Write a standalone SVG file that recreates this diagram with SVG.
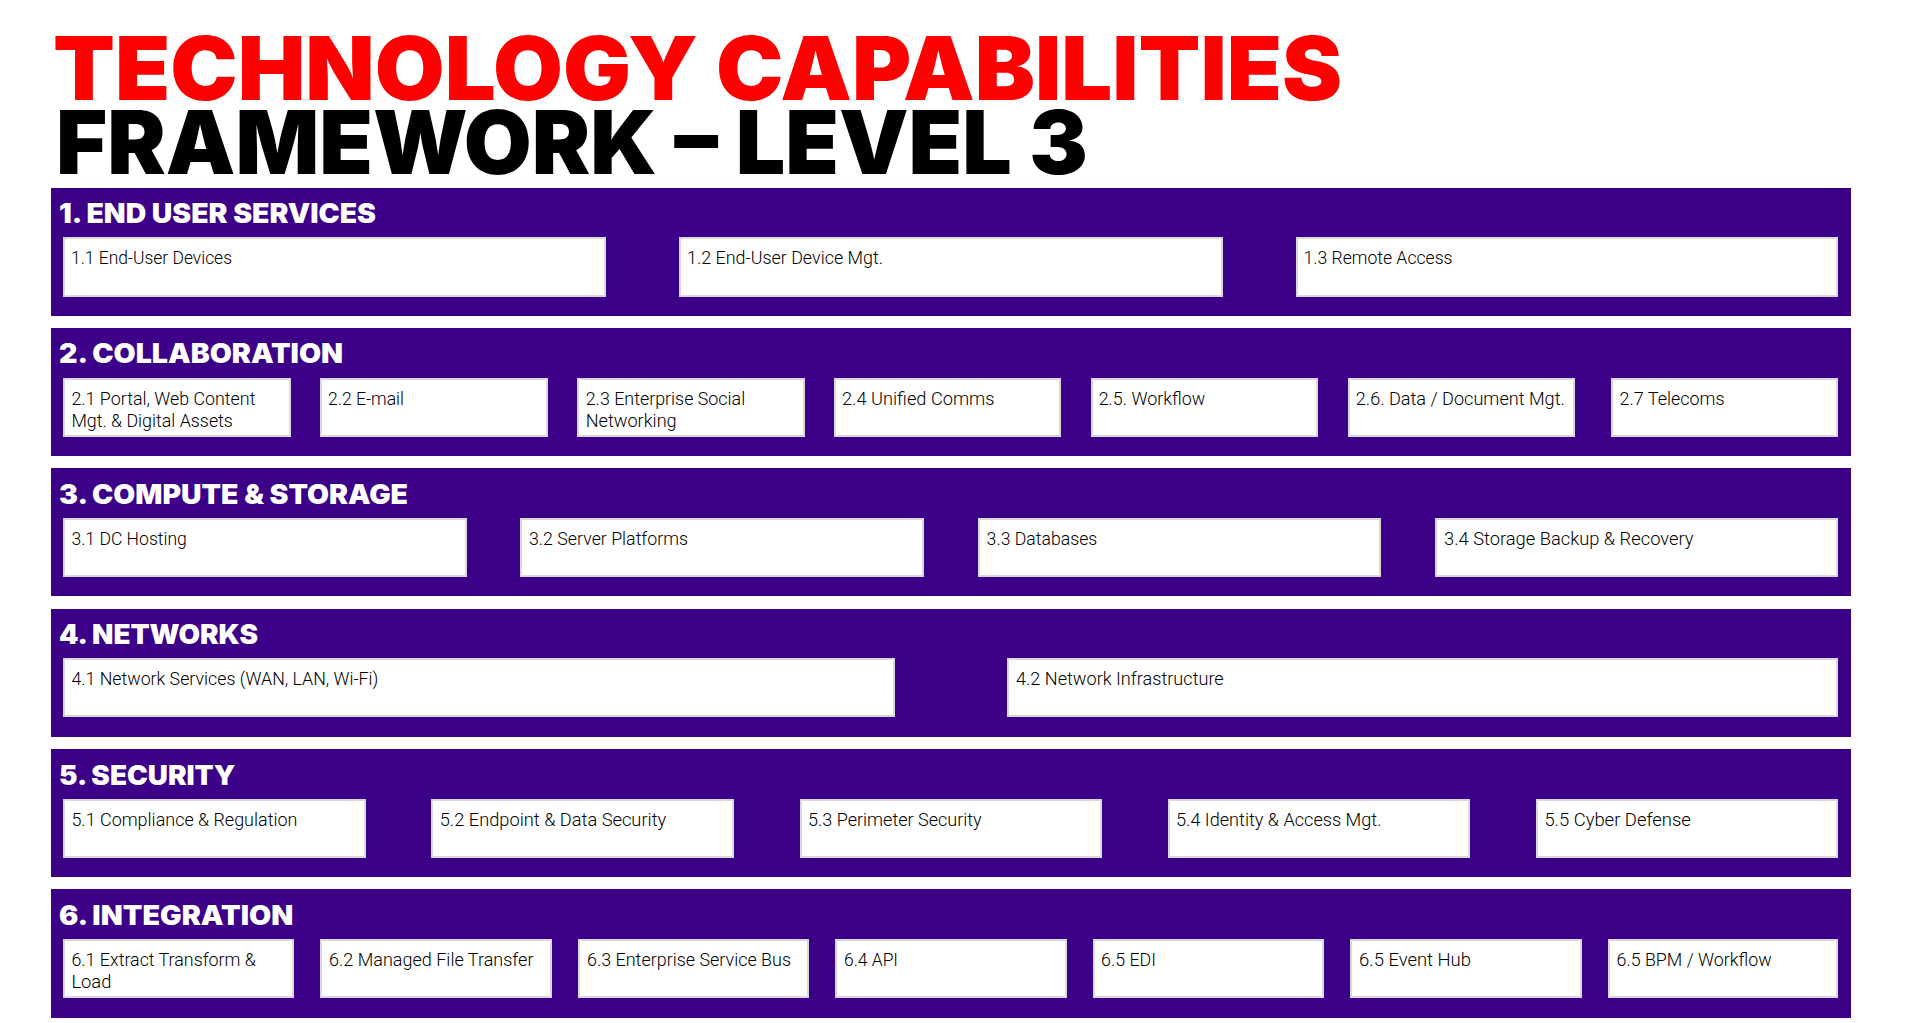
<svg xmlns="http://www.w3.org/2000/svg" width="1906" height="1023" viewBox="0 0 1906 1023">
  <style>
    .title { font-family: Inter, Lato, "Liberation Sans", sans-serif; font-weight: 900; font-size: 88px; }
    .red { fill: #ff0000; }
    .black { fill: #000000; }
    .band { fill: #3b0087; }
    .head { font-family: Inter, Lato, "Liberation Sans", sans-serif; font-weight: 900; font-size: 27px; fill: #ffffff; }
    .box { fill: #ffffff; stroke: #d9d9d9; stroke-width: 2; }
    .lbl { font-family: Roboto, "Liberation Sans", sans-serif; font-weight: 300; font-size: 18.5px; fill: #000000; }
  </style>
  <rect width="1906" height="1023" fill="#ffffff"/>

  <!-- Title -->
  <g id="title">
    <text class="title red" x="53" y="100" textLength="1289" lengthAdjust="spacingAndGlyphs">TECHNOLOGY CAPABILITIES</text>
    <text class="title black" x="56" y="174" textLength="1032" lengthAdjust="spacingAndGlyphs">FRAMEWORK – LEVEL 3</text>
  </g>

  <!-- 1. End User Services -->
  <g id="layer-1">
    <rect class="band" x="51" y="188" width="1800" height="128"/>
    <text class="head" x="59" y="223" textLength="317" lengthAdjust="spacingAndGlyphs">1. END USER SERVICES</text>
    <g id="n1-1"><rect class="box" x="64" y="238" width="541" height="58"/><text class="lbl" x="71" y="264" textLength="161" lengthAdjust="spacingAndGlyphs">1.1 End-User Devices</text></g>
    <g id="n1-2"><rect class="box" x="680" y="238" width="542" height="58"/><text class="lbl" x="687" y="264" textLength="196" lengthAdjust="spacingAndGlyphs">1.2 End-User Device Mgt.</text></g>
    <g id="n1-3"><rect class="box" x="1297" y="238" width="540" height="58"/><text class="lbl" x="1303.5" y="264" textLength="149" lengthAdjust="spacingAndGlyphs">1.3 Remote Access</text></g>
  </g>

  <!-- 2. Collaboration -->
  <g id="layer-2">
    <rect class="band" x="51" y="328" width="1800" height="128"/>
    <text class="head" x="59" y="363" textLength="284" lengthAdjust="spacingAndGlyphs">2. COLLABORATION</text>
    <g id="n2-1"><rect class="box" x="64" y="379" width="226" height="57"/>
      <text class="lbl" x="71.4" y="404.5" textLength="184" lengthAdjust="spacingAndGlyphs">2.1 Portal, Web Content</text>
      <text class="lbl" x="71.4" y="426.5" textLength="161.5" lengthAdjust="spacingAndGlyphs">Mgt. &amp; Digital Assets</text></g>
    <g id="n2-2"><rect class="box" x="321" y="379" width="226" height="57"/><text class="lbl" x="328" y="404.5" textLength="76" lengthAdjust="spacingAndGlyphs">2.2 E-mail</text></g>
    <g id="n2-3"><rect class="box" x="578" y="379" width="226" height="57"/>
      <text class="lbl" x="585.7" y="404.5" textLength="159.5" lengthAdjust="spacingAndGlyphs">2.3 Enterprise Social</text>
      <text class="lbl" x="585.7" y="426.5" textLength="91" lengthAdjust="spacingAndGlyphs">Networking</text></g>
    <g id="n2-4"><rect class="box" x="835" y="379" width="225" height="57"/><text class="lbl" x="842" y="404.5" textLength="152.5" lengthAdjust="spacingAndGlyphs">2.4 Unified Comms</text></g>
    <g id="n2-5"><rect class="box" x="1092" y="379" width="225" height="57"/><text class="lbl" x="1098.7" y="404.5" textLength="106.5" lengthAdjust="spacingAndGlyphs">2.5. Workflow</text></g>
    <g id="n2-6"><rect class="box" x="1349" y="379" width="225" height="57"/><text class="lbl" x="1355.8" y="404.5" textLength="209" lengthAdjust="spacingAndGlyphs">2.6. Data / Document Mgt.</text></g>
    <g id="n2-7"><rect class="box" x="1612" y="379" width="225" height="57"/><text class="lbl" x="1619.6" y="404.5" textLength="105" lengthAdjust="spacingAndGlyphs">2.7 Telecoms</text></g>
  </g>

  <!-- 3. Compute & Storage -->
  <g id="layer-3">
    <rect class="band" x="51" y="468" width="1800" height="128"/>
    <text class="head" x="59" y="503.5" textLength="349" lengthAdjust="spacingAndGlyphs">3. COMPUTE &amp; STORAGE</text>
    <g id="n3-1"><rect class="box" x="64" y="519" width="402" height="57"/><text class="lbl" x="71.4" y="545" textLength="115.5" lengthAdjust="spacingAndGlyphs">3.1 DC Hosting</text></g>
    <g id="n3-2"><rect class="box" x="521" y="519" width="402" height="57"/><text class="lbl" x="529" y="545" textLength="159" lengthAdjust="spacingAndGlyphs">3.2 Server Platforms</text></g>
    <g id="n3-3"><rect class="box" x="979" y="519" width="401" height="57"/><text class="lbl" x="986.6" y="545" textLength="110.7" lengthAdjust="spacingAndGlyphs">3.3 Databases</text></g>
    <g id="n3-4"><rect class="box" x="1436" y="519" width="401" height="57"/><text class="lbl" x="1444" y="545" textLength="249.5" lengthAdjust="spacingAndGlyphs">3.4 Storage Backup &amp; Recovery</text></g>
  </g>

  <!-- 4. Networks -->
  <g id="layer-4">
    <rect class="band" x="51" y="609" width="1800" height="128"/>
    <text class="head" x="59" y="643.5" textLength="199" lengthAdjust="spacingAndGlyphs">4. NETWORKS</text>
    <g id="n4-1"><rect class="box" x="64" y="659" width="830" height="57"/><text class="lbl" x="71.4" y="685" textLength="307" lengthAdjust="spacingAndGlyphs">4.1 Network Services (WAN, LAN, Wi-Fi)</text></g>
    <g id="n4-2"><rect class="box" x="1008" y="659" width="829" height="57"/><text class="lbl" x="1016" y="685" textLength="207.7" lengthAdjust="spacingAndGlyphs">4.2 Network Infrastructure</text></g>
  </g>

  <!-- 5. Security -->
  <g id="layer-5">
    <rect class="band" x="51" y="749" width="1800" height="128"/>
    <text class="head" x="59" y="784.5" textLength="176.3" lengthAdjust="spacingAndGlyphs">5. SECURITY</text>
    <g id="n5-1"><rect class="box" x="64" y="800" width="301" height="57"/><text class="lbl" x="71.4" y="826" textLength="226" lengthAdjust="spacingAndGlyphs">5.1 Compliance &amp; Regulation</text></g>
    <g id="n5-2"><rect class="box" x="432" y="800" width="301" height="57"/><text class="lbl" x="439.7" y="826" textLength="226.5" lengthAdjust="spacingAndGlyphs">5.2 Endpoint &amp; Data Security</text></g>
    <g id="n5-3"><rect class="box" x="801" y="800" width="300" height="57"/><text class="lbl" x="808" y="826" textLength="173.7" lengthAdjust="spacingAndGlyphs">5.3 Perimeter Security</text></g>
    <g id="n5-4"><rect class="box" x="1169" y="800" width="300" height="57"/><text class="lbl" x="1176" y="826" textLength="205.5" lengthAdjust="spacingAndGlyphs">5.4 Identity &amp; Access Mgt.</text></g>
    <g id="n5-5"><rect class="box" x="1537" y="800" width="300" height="57"/><text class="lbl" x="1544.4" y="826" textLength="146.4" lengthAdjust="spacingAndGlyphs">5.5 Cyber Defense</text></g>
  </g>

  <!-- 6. Integration -->
  <g id="layer-6">
    <rect class="band" x="51" y="889" width="1800" height="129"/>
    <text class="head" x="59" y="924.5" textLength="234.3" lengthAdjust="spacingAndGlyphs">6. INTEGRATION</text>
    <g id="n6-1"><rect class="box" x="64" y="940" width="229" height="57"/>
      <text class="lbl" x="71.4" y="966" textLength="184.4" lengthAdjust="spacingAndGlyphs">6.1 Extract Transform &amp;</text>
      <text class="lbl" x="71.4" y="988" textLength="40" lengthAdjust="spacingAndGlyphs">Load</text></g>
    <g id="n6-2"><rect class="box" x="321" y="940" width="230" height="57"/><text class="lbl" x="329" y="966" textLength="204.5" lengthAdjust="spacingAndGlyphs">6.2 Managed File Transfer</text></g>
    <g id="n6-3"><rect class="box" x="579" y="940" width="229" height="57"/><text class="lbl" x="587" y="966" textLength="204" lengthAdjust="spacingAndGlyphs">6.3 Enterprise Service Bus</text></g>
    <g id="n6-4"><rect class="box" x="836" y="940" width="230" height="57"/><text class="lbl" x="844" y="966" textLength="54" lengthAdjust="spacingAndGlyphs">6.4 API</text></g>
    <g id="n6-5"><rect class="box" x="1094" y="940" width="229" height="57"/><text class="lbl" x="1101" y="966" textLength="55" lengthAdjust="spacingAndGlyphs">6.5 EDI</text></g>
    <g id="n6-6"><rect class="box" x="1351" y="940" width="230" height="57"/><text class="lbl" x="1359" y="966" textLength="112" lengthAdjust="spacingAndGlyphs">6.5 Event Hub</text></g>
    <g id="n6-7"><rect class="box" x="1609" y="940" width="228" height="57"/><text class="lbl" x="1616.5" y="966" textLength="155.3" lengthAdjust="spacingAndGlyphs">6.5 BPM / Workflow</text></g>
  </g>

  <!-- no connectors in this layout -->
  <g id="connectors"/>
</svg>
